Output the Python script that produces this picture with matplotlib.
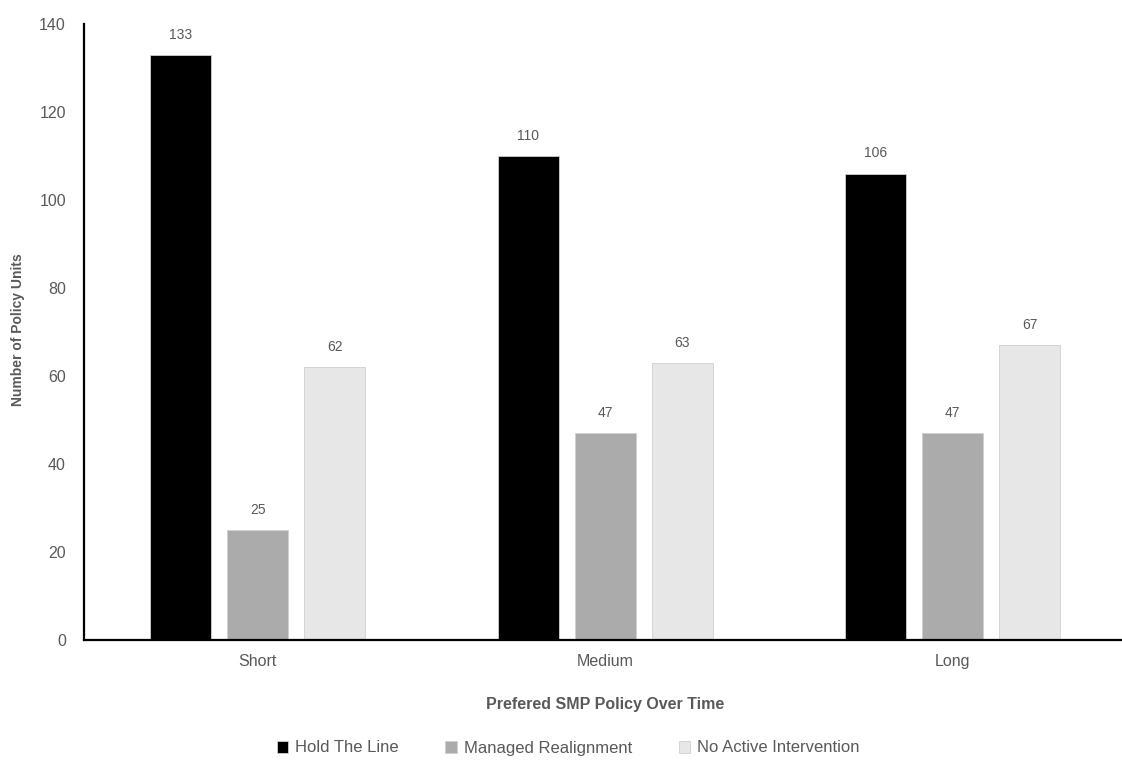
import numpy as np
import matplotlib
matplotlib.use('Agg')
import matplotlib.pyplot as plt

# 各时期的政策单元数量
periods = ['Short', 'Medium', 'Long']
series_names = ['Hold The Line', 'Managed Realignment', 'No Active Intervention']
hold_the_line = [133, 110, 106]
managed_realignment = [25, 47, 47]
no_active_intervention = [62, 63, 67]
y_ticks = [0, 20, 40, 60, 80, 100, 120, 140]

colors = ['#000000', '#ABABAB', '#E7E7E7']
text_grey = '#595959'

plt.rcParams['font.family'] = ['Liberation Sans', 'DejaVu Sans']

fig = plt.figure(figsize=(11.22, 7.60), dpi=100)
ax = fig.add_axes([84 / 1122, 120 / 760, 1 - 84 / 1122, 616 / 760])

x = np.arange(len(periods))
width = 0.176
step = 0.2216
all_series = [hold_the_line, managed_realignment, no_active_intervention]
for i, (vals, name, c) in enumerate(zip(all_series, series_names, colors)):
    pos = x + (i - 1) * step
    bars = ax.bar(pos, vals, width, color=c, label=name,
                  edgecolor='#D0D0D0', linewidth=0.6)
    for b, v in zip(bars, vals):
        ax.text(b.get_x() + b.get_width() / 2, v + 3, str(v),
                ha='center', va='bottom', fontsize=10, color=text_grey)

ax.set_xlim(-0.5, 2.487)
ax.set_ylim(0, 140)
ax.set_yticks(y_ticks)
ax.set_xticks(x)
ax.set_xticklabels(periods)
ax.tick_params(axis='both', length=0, labelsize=11.5, colors=text_grey)
ax.tick_params(axis='y', pad=13)
ax.tick_params(axis='x', pad=10)

for s in ['top', 'right']:
    ax.spines[s].set_visible(False)
ax.spines['left'].set_linewidth(1.6)
ax.spines['bottom'].set_linewidth(1.6)
ax.spines['left'].set_color('black')
ax.spines['bottom'].set_color('black')

fig.text(18 / 1122, 1 - 330 / 760, 'Number of Policy Units', rotation=90,
         ha='center', va='center', fontsize=10, fontweight='bold', color=text_grey)
fig.text(605 / 1122, 1 - 704 / 760, 'Prefered SMP Policy Over Time',
         ha='center', va='center', fontsize=11.5, fontweight='bold', color=text_grey)

fig.legend(loc='center', bbox_to_anchor=(568 / 1122, 1 - 748 / 760), ncol=3,
           frameon=False, handlelength=0.7, handleheight=0.7, handletextpad=0.4,
           columnspacing=2.8, prop={'size': 12}, labelcolor=text_grey)

fig.savefig('out.png', dpi=100)
